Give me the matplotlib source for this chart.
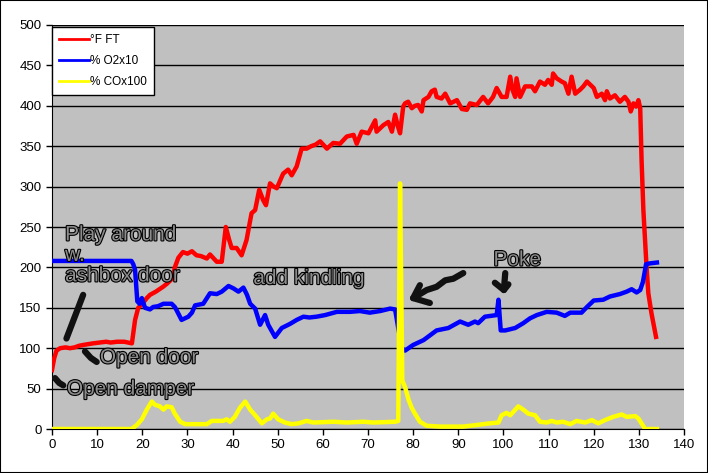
import matplotlib
matplotlib.use("Agg")
import matplotlib.pyplot as plt
import matplotlib.patheffects as pe
from matplotlib.patches import Rectangle

plt.rcParams['font.family'] = ['Liberation Sans', 'DejaVu Sans']

# flue temperature, deg F
ft_x = [0, 0.5, 1.0, 1.8, 3, 4, 5, 6, 6.9, 8, 9.1, 10.5, 12, 13, 14.4, 16, 17.7,
        18.4, 19.1, 20, 21, 21.7, 23, 24.6, 25.5, 26.8, 27.2, 28, 29, 30, 31, 32,
        33, 34.3, 35, 36.5, 37.6, 38.5, 39.2, 39.8, 40.9, 42.0, 43.1, 44.2, 45.0,
        45.9, 46.8, 47.4, 48.3, 49.1, 49.8, 51.2, 52.3, 53.1, 54.2, 55.3, 56.4,
        57.4, 58.4, 59.4, 60.9, 62.3, 63.8, 65.3, 66.8, 67.5, 68.6, 70.1, 71.6,
        71.9, 73.4, 74.5, 75.3, 76.0, 76.6, 77.1, 77.8, 78.2, 78.9, 79.7, 80.4,
        81.1, 81.9, 82.3, 83.4, 84.1, 84.8, 85.2, 86.3, 87.1, 88.2, 89.7, 90.8,
        91.9, 92.6, 94.1, 95.5, 96.6, 97.7, 98.5, 99.6, 100.7, 101.5, 102.0,
        102.6, 102.9, 103.7, 104.8, 106.3, 107.0, 108.1, 109.2, 109.9, 110.7,
        111.0, 111.8, 112.9, 113.6, 114.4, 115.1, 115.9, 117.0, 117.7, 118.5,
        120.0, 120.7, 121.8, 122.5, 122.9, 123.6, 124.7, 125.8, 126.9, 127.7,
        128.2, 128.8, 129.4, 129.9, 130.3, 130.6, 131.0, 131.4, 131.7, 132.1,
        132.8, 133.8]
ft_y = [73, 88, 97, 100, 101, 100, 101, 103, 104, 105, 106, 107, 108, 107, 108,
        108, 106, 135, 150, 155, 162, 166, 170, 176, 180, 187, 200, 212, 219, 217,
        220, 215, 214, 211, 216, 207, 207, 250, 235, 224, 224, 215, 234, 267, 271,
        296, 283, 277, 304, 300, 298, 316, 321, 314, 325, 347, 347, 350, 352, 356,
        347, 354, 353, 362, 364, 353, 368, 366, 382, 368, 376, 380, 368, 389, 375,
        366, 399, 403, 405, 397, 400, 401, 393, 407, 411, 418, 420, 411, 409, 415,
        403, 407, 396, 395, 403, 401, 411, 403, 411, 422, 411, 411, 436, 420, 411,
        434, 411, 424, 424, 418, 430, 426, 432, 426, 440, 434, 430, 428, 415, 436,
        415, 420, 424, 430, 422, 411, 415, 407, 418, 409, 413, 405, 411, 405, 393,
        403, 399, 407, 397, 333, 271, 230, 201, 168, 143, 114]

# oxygen, % x10
o2_x = [0, 17.6, 18.0, 18.4, 18.9, 19.4, 19.9, 20.6, 21.7, 22.4, 23.5, 24.7, 26.5,
        27.2, 27.6, 28.7, 30.2, 31.0, 31.7, 33.5, 35.0, 36.5, 37.6, 39.1, 40.2,
        41.3, 42.4, 43.2, 43.9, 45.0, 46.1, 47.2, 47.9, 49.4, 50.9, 52.7, 54.2,
        55.7, 57.0, 58.6, 60.5, 63.1, 66.0, 68.2, 70.4, 72.7, 74.9, 76.0, 76.4,
        76.7, 77.5, 78.2, 80.0, 82.3, 85.2, 87.8, 90.4, 92.2, 93.7, 94.4, 95.9,
        98.5, 98.9, 99.4, 100.4, 102.6, 104.4, 105.9, 107.4, 109.6, 111.8, 113.6,
        114.8, 117.3, 118.5, 120.0, 122.1, 123.6, 125.8, 127.3, 128.4, 129.5,
        130.3, 130.9, 131.6, 132.5, 134.0]
o2_y = [208, 208, 204, 197, 158, 155, 162, 150, 148, 151, 152, 155, 155, 151, 147,
        135, 139, 144, 153, 155, 168, 167, 170, 177, 174, 170, 175, 166, 155, 149,
        129, 141, 129, 114, 125, 130, 135, 139, 138, 139, 141, 145, 145, 146, 144,
        146, 149, 148, 135, 125, 100, 97, 104, 110, 122, 125, 133, 129, 133, 131,
        139, 141, 160, 122, 122, 125, 131, 137, 141, 145, 144, 140, 144, 144, 151,
        159, 160, 164, 167, 170, 173, 169, 172, 182, 204, 205, 206]

# carbon monoxide, % x100
co_x = [0, 17.6, 18.8, 19.9, 21.0, 22.1, 22.8, 23.9, 24.7, 25.4, 26.5, 27.2, 28.4,
        29.5, 34.3, 35.4, 37.9, 38.7, 39.4, 40.5, 41.6, 42.8, 43.9, 45.0, 46.5,
        47.6, 48.3, 49.0, 50.1, 51.6, 53.1, 54.6, 56.4, 57.9, 62.3, 65.3, 69.0,
        71.2, 76.0, 76.7, 77.1, 77.6, 78.2, 79.0, 79.7, 80.4, 81.5, 83.0, 86.0,
        91.1, 94.1, 97.0, 98.9, 99.6, 100.7, 101.5, 103.3, 104.4, 105.5, 107.0,
        108.1, 109.6, 110.7, 111.8, 113.2, 114.8, 116.2, 118.1, 119.6, 121.0,
        122.5, 124.3, 126.2, 127.3, 129.2, 129.9, 131.4, 134.0]
co_y = [0, 0, 5, 12, 24, 34, 30, 28, 24, 28, 27, 19, 9, 6, 6, 10, 10, 12, 9, 15, 26,
        34, 24, 17, 7, 12, 13, 19, 12, 8, 6, 7, 10, 8, 9, 8, 9, 8, 9, 10, 304, 60,
        52, 36, 26, 19, 9, 4, 3, 3, 5, 7, 8, 17, 20, 17, 28, 24, 19, 17, 9, 8, 10,
        8, 9, 6, 10, 8, 11, 7, 11, 15, 18, 15, 16, 13, 0, 0]

# hand drawn marks (data coords)
marks = [
    ([3.2, 6.9], [112, 166]),
    ([7.3, 8.6, 9.9], [96, 88, 83]),
    ([0.66, 1.6, 2.5], [63, 57, 54]),
    ([91.1, 88.9, 87.1, 85.2, 83.0, 80.0], [193, 186, 184, 176, 172, 162]),
    ([81.5, 80.0, 83.7], [178, 162, 156]),
    ([100.4, 100.1], [193, 172]),
    ([98.1, 100.1, 101.1], [181, 172, 179]),
]

notes = [
    (2.9, 252, "Play around\nw.\nashbox door"),
    (10.6, 100, "Open door"),
    (3.3, 61, "Open damper"),
    (44.6, 198, "add kindling"),
    (97.8, 221, "Poke"),
]

fig = plt.figure(figsize=(7.08, 4.73), dpi=100)
fig.patches.append(Rectangle((0, 0), 1, 1, transform=fig.transFigure,
                             fill=False, edgecolor='black', lw=1.5))
ax = fig.add_axes([52 / 708, 44 / 473, 632 / 708, 404 / 473])
ax.set_facecolor('#C0C0C0')

ax.plot(ft_x, ft_y, color='#FF0000', lw=3.2, label='°F FT', zorder=3)
ax.plot(o2_x, o2_y, color='#0000FF', lw=3.2, label='% O2x10', zorder=4)
ax.plot(co_x, co_y, color='#FFFF00', lw=3.2, label='% COx100', zorder=5)

for mx, my in marks:
    ax.plot(mx, my, color='#111111', lw=4.5, solid_capstyle='round',
            solid_joinstyle='round', zorder=6)

for x, y, s in notes:
    ax.text(x, y, s, fontsize=15, color='#8C8C8C', va='top', ha='left',
            linespacing=1.1, zorder=7,
            path_effects=[pe.withStroke(linewidth=1.6, foreground='black')])

ax.set_xlim(0, 140)
ax.set_ylim(0, 500)
ax.set_xticks(range(0, 141, 10))
ax.set_yticks(range(0, 501, 50))
ax.yaxis.grid(True, color='black', lw=1)
ax.set_axisbelow(True)
ax.tick_params(labelsize=9.5, length=4, width=1, color='black')
for side in ['top', 'right']:
    ax.spines[side].set_visible(False)
for side in ['left', 'bottom']:
    ax.spines[side].set_color('black')

leg = ax.legend(loc='upper left', bbox_to_anchor=(0, 0.995), fontsize=8.5,
                frameon=True, fancybox=False, framealpha=1, edgecolor='black',
                borderaxespad=0, handlelength=2.5, handletextpad=0.15,
                borderpad=0.6, labelspacing=0.75)
leg.get_frame().set_linewidth(1)
for line in leg.get_lines():
    line.set_linewidth(2)

fig.savefig('out.png', dpi=100)
